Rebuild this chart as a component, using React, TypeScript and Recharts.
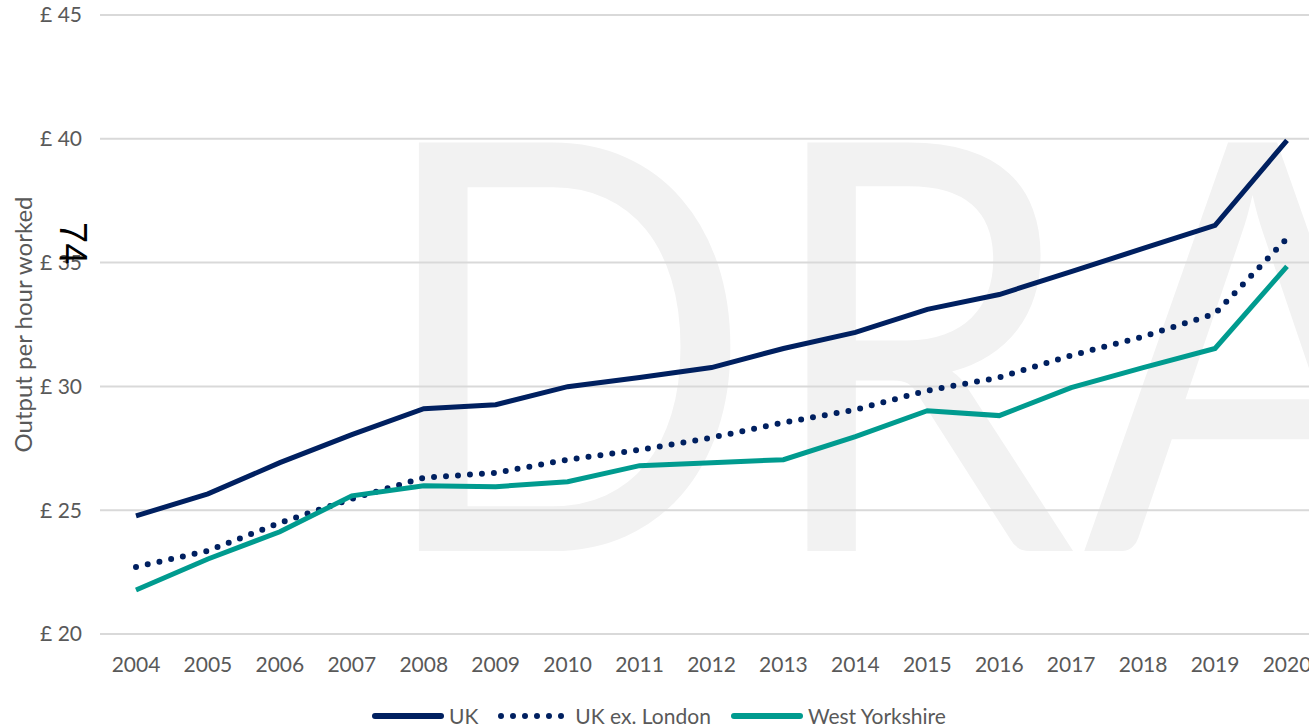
import React from 'react';
import { LineChart, Line, XAxis, YAxis, CartesianGrid, Legend } from 'recharts';

const NAVY = '#002060';
const TEAL = '#009B8F';
const GRID = '#D9D9D9';
const TEXT = '#595959';
const FONT = 'Lato, "Open Sans", sans-serif';

const years = ['2004', '2005', '2006', '2007', '2008', '2009', '2010', '2011', '2012', '2013', '2014', '2015', '2016', '2017', '2018', '2019', '2020'];
const uk = [24.77, 25.66, 26.92, 28.05, 29.1, 29.26, 29.99, 30.36, 30.76, 31.53, 32.18, 33.11, 33.71, 34.64, 35.57, 36.5, 39.94];
const ukExLondon = [22.71, 23.36, 24.49, 25.46, 26.31, 26.51, 27.04, 27.44, 27.93, 28.54, 29.06, 29.83, 30.36, 31.25, 32.01, 32.94, 35.98];
const westYorkshire = [21.78, 23.03, 24.13, 25.58, 25.99, 25.95, 26.15, 26.8, 26.92, 27.04, 27.97, 29.02, 28.82, 29.95, 30.76, 31.53, 34.85];
const yTicks = [20, 25, 30, 35, 40, 45];

const data = years.map((year, i) => ({
  year,
  uk: uk[i],
  exLondon: ukExLondon[i],
  wy: westYorkshire[i],
}));

const legendItems = [
  { label: 'UK', color: NAVY, dotted: false },
  { label: 'UK ex. London', color: NAVY, dotted: true },
  { label: 'West Yorkshire', color: TEAL, dotted: false },
];

function ChartLegend() {
  return (
    <div style={{ display: 'flex', alignItems: 'center', fontFamily: FONT, fontSize: 21, color: TEXT }}>
      {legendItems.map(item => (
        <div key={item.label} style={{ display: 'flex', alignItems: 'center', marginRight: 20 }}>
          <svg width={72} height={10} style={{ marginRight: 5 }}>
            <line
              x1={3} y1={5} x2={69} y2={5}
              stroke={item.color} strokeWidth={6} strokeLinecap="round"
              strokeDasharray={item.dotted ? '0 12' : undefined}
            />
          </svg>
          <span>{item.label}</span>
        </div>
      ))}
    </div>
  );
}

export default function App() {
  return (
    <div style={{ position: 'fixed', left: 0, top: 0, width: 1309, height: 728, overflow: 'hidden', background: '#fff' }}>
      {/* watermark */}
      <div style={{
        position: 'absolute', left: 373, top: 45, fontFamily: FONT, fontSize: 570,
        lineHeight: 1, color: '#F2F2F2', whiteSpace: 'nowrap', letterSpacing: 8,
        transform: 'scaleX(0.88)', transformOrigin: 'left top',
      }}>DRAFT</div>

      <div style={{ position: 'absolute', left: 0, top: 0 }}>
        <LineChart width={1330} height={728} data={data} margin={{ top: 15, right: 7, bottom: 39, left: 0 }}>
          <CartesianGrid vertical={false} stroke={GRID} strokeWidth={2} />
          <XAxis
            dataKey="year" axisLine={false} tickLine={false} interval={0}
            padding={{ left: 36, right: 36 }} tickMargin={17}
            tick={{ fill: TEXT, fontSize: 21, fontFamily: FONT }}
          />
          <YAxis
            domain={[20, 45]} ticks={yTicks} width={100} axisLine={false} tickLine={false}
            tickMargin={12} tickFormatter={(v: number) => `£ ${v}`}
            tick={{ fill: TEXT, fontSize: 21, fontFamily: FONT }}
            label={{ value: 'Output per hour worked', angle: -90, position: 'insideLeft', dx: 18, style: { fill: TEXT, fontSize: 24, fontFamily: FONT, textAnchor: 'middle' } }}
          />
          <Legend content={() => <ChartLegend />} wrapperStyle={{ left: 372, top: 703, width: 'auto' }} />
          <Line type="linear" dataKey="uk" stroke={NAVY} strokeWidth={5} dot={false} isAnimationActive={false} />
          <Line type="linear" dataKey="exLondon" stroke={NAVY} strokeWidth={6} strokeDasharray="0 12" strokeLinecap="round" dot={false} isAnimationActive={false} />
          <Line type="linear" dataKey="wy" stroke={TEAL} strokeWidth={5} dot={false} isAnimationActive={false} />
        </LineChart>
      </div>

      {/* page number */}
      <div style={{
        position: 'absolute', left: 92, top: 222, fontFamily: '"Liberation Sans", sans-serif',
        fontSize: 38, color: '#000', transform: 'rotate(90deg)', transformOrigin: 'left top',
        lineHeight: 1,
      }}>74</div>
    </div>
  );
}
